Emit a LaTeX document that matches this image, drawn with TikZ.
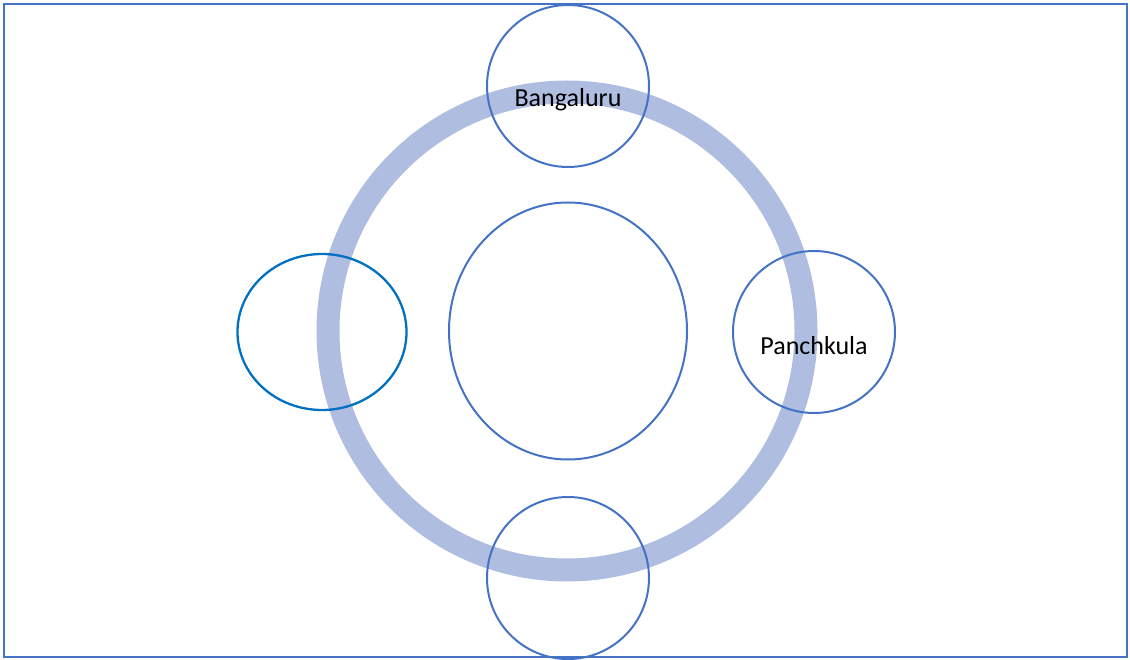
\documentclass[tikz,border=0pt]{standalone}
\usepackage{fontspec}
\setmainfont{Carlito}
\usetikzlibrary{shapes.geometric}
\definecolor{frame}{HTML}{4472C4}
\definecolor{ringc}{HTML}{AFBDE0}
\definecolor{leftc}{HTML}{0070C0}
\begin{document}
\begin{tikzpicture}[x=1pt,y=-1pt,
  circ/.style={draw=frame,line width=2pt},
  lbl/.style={font=\fontsize{26}{30}\selectfont,text=black}]
\useasboundingbox (0,0) rectangle (1130,660);
\draw[frame,line width=2pt] (4,4) rectangle (1127,657);
\draw[ringc,line width=23pt] (567,331) circle[radius=239];
\node[circ,ellipse,minimum width=238pt,minimum height=257pt,inner sep=0] (center) at (568,331) {};
\node[circ,circle,minimum size=162pt,inner sep=0] (top) at (568,86) {};
\node[circ,circle,minimum size=162pt,inner sep=0] (right) at (814,332) {};
\node[circ,circle,minimum size=162pt,inner sep=0] (bottom) at (568,578) {};
\node[draw=leftc,line width=2.3pt,ellipse,minimum width=169pt,minimum height=156pt,inner sep=0] (left) at (322,332) {};
\node[lbl] (bl) at (568,100) {Bangaluru};
\node[lbl] (pl) at (814,346) {Panchkula};
\end{tikzpicture}
\end{document}
